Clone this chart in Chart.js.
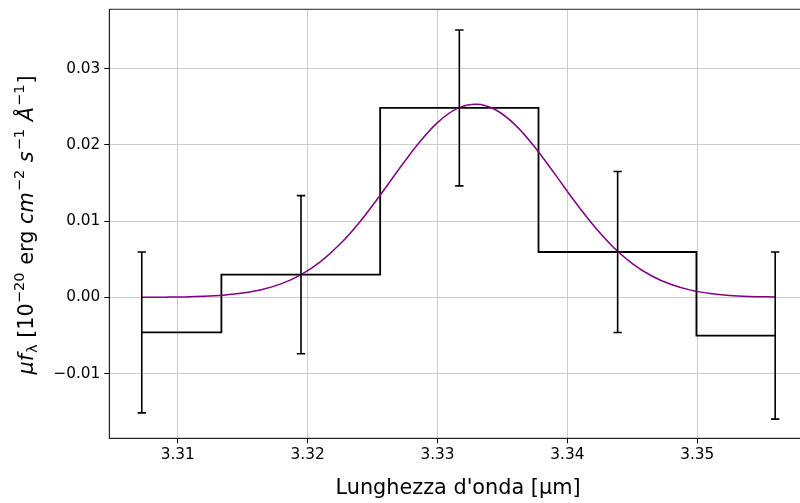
<!DOCTYPE html>
<html>
<head>
<meta charset="utf-8">
<script src="https://cdn.jsdelivr.net/npm/chart.js@4.4.1/dist/chart.umd.min.js"></script>
<style>
  html, body { margin: 0; padding: 0; background: #fff; }
  #wrap { width: 800px; height: 503px; }
</style>
</head>
<body>
<div id="wrap"><canvas id="lineChart" width="800" height="503"></canvas></div>
<script>
// binned spectrum (bin centres in micron) with 1-sigma errors
let binCenters = [3.30723, 3.31949, 3.33168, 3.34387, 3.35600];
let flux = [-0.00460, 0.00298, 0.02485, 0.00595, -0.00501];
let fluxErr = [0.01055, 0.01037, 0.01022, 0.01055, 0.01096];

// gaussian fit, sampled along the wavelength range
let fitX = [3.3072, 3.3090, 3.3105, 3.3120, 3.3135, 3.3150, 3.3165, 3.3180, 3.3195,
  3.3210, 3.3225, 3.3240, 3.3255, 3.3270, 3.3285, 3.3300, 3.3315, 3.3330, 3.3345,
  3.3360, 3.3375, 3.3390, 3.3405, 3.3420, 3.3435, 3.3450, 3.3465, 3.3480, 3.3495,
  3.3510, 3.3525, 3.3540, 3.3560];
let fitY = [0.00001, 0.00003, 0.00006, 0.00014, 0.00029, 0.00056, 0.00103, 0.00180, 0.00299,
  0.00469, 0.00699, 0.00986, 0.01320, 0.01674, 0.02012, 0.02292, 0.02475, 0.02533, 0.02457,
  0.02259, 0.01969, 0.01626, 0.01273, 0.00945, 0.00665, 0.00443, 0.00280, 0.00168, 0.00095,
  0.00051, 0.00026, 0.00013, 0.00004];

let xTicks = [3.31, 3.32, 3.33, 3.34, 3.35];
let yTicks = [-0.01, 0.00, 0.01, 0.02, 0.03];

const FONT = "'DejaVu Sans', sans-serif";

// error bars with small caps, drawn on the data scales
const errorBars = {
  id: "errorBars",
  afterDatasetsDraw(chart) {
    let ctx = chart.ctx;
    let xs = chart.scales.x, ys = chart.scales.y;
    ctx.save();
    ctx.strokeStyle = "#000";
    ctx.lineWidth = 1.6;
    for (let i = 0; i < binCenters.length; i++) {
      let px = xs.getPixelForValue(binCenters[i]);
      let top = ys.getPixelForValue(flux[i] + fluxErr[i]);
      let bot = ys.getPixelForValue(flux[i] - fluxErr[i]);
      ctx.beginPath();
      ctx.moveTo(px, top); ctx.lineTo(px, bot);
      ctx.moveTo(px - 4.2, top); ctx.lineTo(px + 4.2, top);
      ctx.moveTo(px - 4.2, bot); ctx.lineTo(px + 4.2, bot);
      ctx.stroke();
    }
    ctx.restore();
  }
};

// frame + axis titles (y title needs italics and superscripts)
const frameAndTitles = {
  id: "frameAndTitles",
  afterDraw(chart) {
    let ctx = chart.ctx;
    let a = chart.chartArea;
    ctx.save();
    ctx.strokeStyle = "#222";
    ctx.lineWidth = 1;
    ctx.strokeRect(a.left, a.top, a.right - a.left + 2, a.bottom - a.top);

    ctx.fillStyle = "#000";
    ctx.textBaseline = "alphabetic";
    ctx.textAlign = "center";
    ctx.font = "20.8px " + FONT;
    ctx.fillText("Lunghezza d'onda [\u00b5m]", 458, 493.5);

    let big = 20.8, small = 14.6;
    let parts = [
      { t: "\u03bc", it: true, s: big, dy: 0 },
      { t: "f", it: true, s: big, dy: 0, gap: 1 },
      { t: "\u03bb", it: false, s: small, dy: 4 },
      { t: " [10", it: false, s: big, dy: 0 },
      { t: "\u221220", it: false, s: small, dy: -9, gap: 1 },
      { t: " erg ", it: false, s: big, dy: 0 },
      { t: "cm", it: true, s: big, dy: 0, gap: 1 },
      { t: "\u22122", it: false, s: small, dy: -9, gap: 1 },
      { t: " ", it: false, s: big, dy: 0 },
      { t: "s", it: true, s: big, dy: 0, gap: 1 },
      { t: "\u22121", it: false, s: small, dy: -9, gap: 1 },
      { t: " ", it: false, s: big, dy: 0 },
      { t: "\u00c5", it: true, s: big, dy: 0, gap: 1 },
      { t: "\u22121", it: false, s: small, dy: -9, gap: 1 },
      { t: "]", it: false, s: big, dy: 0 }
    ];
    let total = 0;
    parts.forEach(p => {
      ctx.font = (p.it ? "italic " : "") + p.s + "px " + FONT;
      p.w = ctx.measureText(p.t).width + (p.gap || 0);
      total += p.w;
    });
    ctx.translate(33, 225);
    ctx.rotate(-Math.PI / 2);
    ctx.textAlign = "left";
    let x = -total / 2;
    parts.forEach(p => {
      ctx.font = (p.it ? "italic " : "") + p.s + "px " + FONT;
      ctx.fillText(p.t, x, p.dy);
      x += p.w;
    });
    ctx.restore();
  }
};

function fmtTick(v) {
  let s = Math.abs(v).toFixed(2);
  return (v < -1e-9 ? "\u2212" : "") + s;
}

let stepData = binCenters.map((x, i) => ({ x: x, y: flux[i] }));
let fitData = fitX.map((x, i) => ({ x: x, y: fitY[i] }));

let ctx = document.getElementById("lineChart").getContext("2d");
let lineChart = new Chart(ctx, {
  type: "line",
  data: {
    datasets: [
      {
        label: "fit",
        data: fitData,
        borderColor: "#800080",
        borderWidth: 1.5,
        pointRadius: 0,
        cubicInterpolationMode: "monotone",
        fill: false,
        order: 0
      },
      {
        label: "flusso",
        data: stepData,
        borderColor: "#000",
        borderWidth: 1.8,
        pointRadius: 0,
        stepped: "middle",
        fill: false,
        order: 1
      }
    ]
  },
  options: {
    responsive: false,
    animation: false,
    devicePixelRatio: 1,
    layout: { padding: { top: 9.3, right: 0, left: 0, bottom: 0 } },
    plugins: { legend: { display: false }, tooltip: { enabled: false } },
    scales: {
      x: {
        type: "linear",
        min: 3.30473,
        max: 3.35791,
        afterFit(scale) { scale.height = 64.7; },
        afterBuildTicks(scale) { scale.ticks = xTicks.map(v => ({ value: v })); },
        grid: { color: "#cccccc", lineWidth: 1, tickLength: 5, tickColor: "#000", tickWidth: 1 },
        border: { display: true, color: "#222", width: 1 },
        ticks: {
          padding: 3,
          color: "#000",
          font: { family: FONT, size: 15.3 },
          maxRotation: 0,
          callback: v => v.toFixed(2)
        },
        title: { display: false }
      },
      y: {
        type: "linear",
        min: -0.01848,
        max: 0.03778,
        afterFit(scale) { scale.width = 109.3; },
        afterBuildTicks(scale) { scale.ticks = yTicks.map(v => ({ value: v })); },
        grid: { color: "#cccccc", lineWidth: 1, tickLength: 5, tickColor: "#000", tickWidth: 1 },
        border: { display: true, color: "#222", width: 1 },
        ticks: {
          padding: 4,
          color: "#000",
          font: { family: FONT, size: 15.3, lineHeight: 0.6 },
          callback: v => fmtTick(v)
        },
        title: { display: false }
      }
    }
  },
  plugins: [errorBars, frameAndTitles]
});
</script>
</body>
</html>
